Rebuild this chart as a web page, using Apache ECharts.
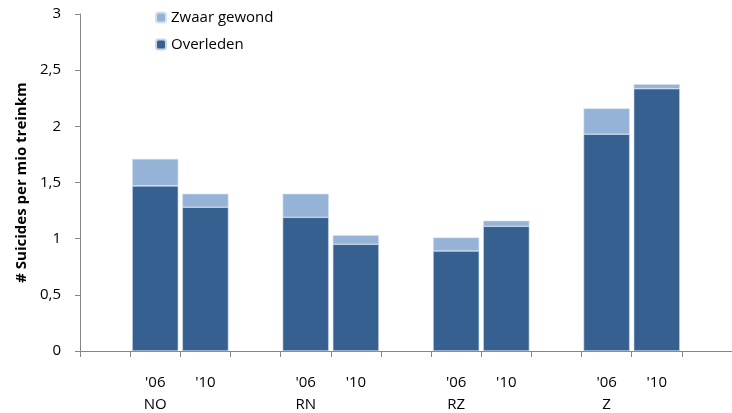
<!DOCTYPE html>
<html><head><meta charset="utf-8">
<script src="https://cdn.jsdelivr.net/npm/echarts@6/dist/echarts.min.js"></script>
<style>html,body{margin:0;padding:0;background:#fff}#c{width:732px;height:413px}</style>
</head><body><div id="c"></div>
<script>
const years = ['', "'06", "'10", '', "'06", "'10", '', "'06", "'10", '', "'06", "'10", ''];
const groups = ['', 'NO', '', '', 'RN', '', '', 'RZ', '', '', 'Z', '', ''];
const overleden = [null, 1.47, 1.28, null, 1.19, 0.95, null, 0.89, 1.11, null, 1.93, 2.335, null];
const zwaarGewond = [null, 0.24, 0.12, null, 0.21, 0.08, null, 0.12, 0.05, null, 0.23, 0.04, null];
const yTicks = [0, 0.5, 1, 1.5, 2, 2.5, 3];

const categories = years.map((y, i) => y + '\n' + groups[i]);
const font = '"Open Sans", sans-serif';
const axisGray = '#868686';
const chart = echarts.init(document.getElementById('c'), null, {renderer: 'canvas'});
chart.setOption({
  animation: false,
  textStyle: {fontFamily: font},
  legend: {
    orient: 'vertical', left: 150, top: 5, itemWidth: 10, itemHeight: 10, itemGap: 12,
    textStyle: {fontSize: 15, color: '#000', fontFamily: font},
    data: ['Zwaar gewond', 'Overleden']
  },
  grid: {left: 80, right: 0, top: 14, bottom: 62, containLabel: false, outerBoundsMode: 'none'},
  xAxis: {
    type: 'category', data: categories,
    axisLine: {show: true, lineStyle: {color: axisGray}},
    axisTick: {show: true, length: 6, lineStyle: {color: axisGray}, interval: 0},
    axisLabel: {interval: 0, margin: 21, fontSize: 15, lineHeight: 22, color: '#000', fontFamily: font}
  },
  yAxis: {
    type: 'value', min: yTicks[0], max: yTicks[yTicks.length - 1], interval: 0.5,
    name: '# Suicides per mio treinkm', nameLocation: 'middle', nameGap: 46,
    nameTextStyle: {fontSize: 15, fontWeight: 'bold', color: '#000', fontFamily: font},
    axisLine: {show: true, lineStyle: {color: axisGray}},
    axisTick: {show: true, length: 5, lineStyle: {color: axisGray}},
    splitLine: {show: false},
    axisLabel: {margin: 19, fontSize: 15, color: '#000', fontFamily: font,
      formatter: v => String(v).replace('.', ',')}
  },
  series: [{
    name: 'Overleden', type: 'bar', stack: 'a', data: overleden, barCategoryGap: '8%',
    itemStyle: {color: '#36608F', borderColor: '#C8D6E8', borderWidth: 0.6}
  }, {
    name: 'Zwaar gewond', type: 'bar', stack: 'a', data: zwaarGewond, barCategoryGap: '8%',
    itemStyle: {color: '#95B3D7', borderColor: '#D4E0EE', borderWidth: 0.6}
  }]
});
</script></body></html>
